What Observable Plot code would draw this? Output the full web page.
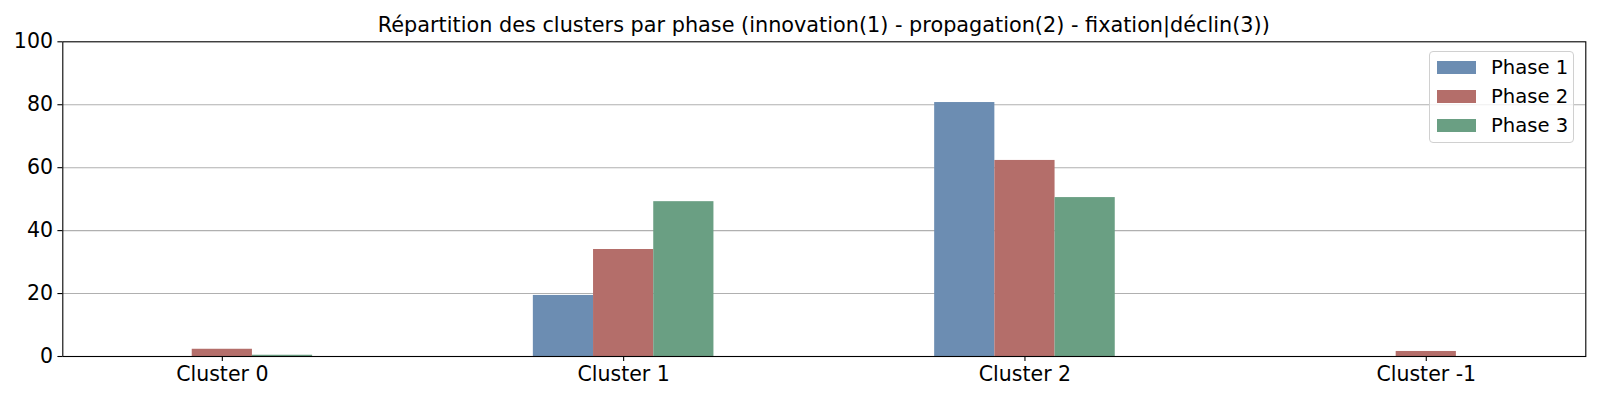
<!DOCTYPE html>
<html>
<head>
<meta charset="utf-8">
<script src="https://cdn.jsdelivr.net/npm/d3@7"></script>
<script src="https://cdn.jsdelivr.net/npm/@observablehq/plot@0.6"></script>
<style>
  html, body { margin: 0; padding: 0; background: #fff; }
  #wrap { position: relative; width: 1600px; height: 400px; font-family: "DejaVu Sans", sans-serif; }
  #title { position: absolute; left: 62.3px; width: 1523px; top: 13px; text-align: center; font-size: 20.8px; color: #000; line-height: 24px; white-space: nowrap; }
  #legend { position: absolute; left: 1429px; top: 51px; width: 145px; height: 92px; border: 1px solid #d0d0d0; border-radius: 4px; background: rgba(255,255,255,0.8); box-sizing: border-box; }
  .lg-row { position: absolute; left: 7px; height: 22px; display: flex; align-items: center; font-size: 19.6px; color: #000; }
  .lg-sw { width: 39px; height: 13px; margin-right: 15px; }
  svg { display: block; }
</style>
</head>
<body>
<div id="wrap">
  <div id="chart"></div>
  <div id="title"></div>
  <div id="legend"></div>
</div>
<script>
const titleText = "Répartition des clusters par phase (innovation(1) - propagation(2) - fixation|déclin(3))";
const clusters = ["Cluster 0", "Cluster 1", "Cluster 2", "Cluster -1"];
const phases = ["Phase 1", "Phase 2", "Phase 3"];
const phase1 = [0, 19.4, 80.7, 0];
const phase2 = [2.3, 34.0, 62.3, 1.6];
const phase3 = [0.4, 49.2, 50.5, 0];
const colors = ["#6c8db2", "#b46e6a", "#6a9f83"];
const yTicks = [0, 20, 40, 60, 80, 100];

const series = [phase1, phase2, phase3];
const barWidth = 0.15;
const rows = [];
clusters.forEach((c, i) => {
  series.forEach((vals, j) => {
    const center = i + (j - 1) * barWidth;
    rows.push({cluster: c, phase: phases[j], value: vals[i], x1: center - barWidth / 2, x2: center + barWidth / 2});
  });
});

const fs = 20.5;
const chart = Plot.plot({
  width: 1600,
  height: 400,
  marginLeft: 62.3,
  marginRight: 14.7,
  marginTop: 41.3,
  marginBottom: 44,
  style: {fontFamily: "DejaVu Sans, sans-serif", fontSize: fs + "px", color: "#000", background: "#fff"},
  x: {type: "linear", domain: [-0.3975, clusters.length - 1 + 0.3975], label: null},
  y: {domain: [0, 100], label: null},
  color: {domain: phases, range: colors},
  marks: [
    Plot.ruleY(yTicks.filter(t => t > 0 && t < 100), {stroke: "#b0b0b0", strokeWidth: 1.1}),
    Plot.rectY(rows, {x1: "x1", x2: "x2", y: "value", fill: "phase"}),
    Plot.axisX({ticks: d3.range(clusters.length), tickFormat: i => clusters[i], tickSize: 4.9, tickPadding: 4.9, strokeWidth: 1.1, fontSize: fs, label: null}),
    Plot.axisY({ticks: yTicks, tickSize: 4.9, tickPadding: 4.9, strokeWidth: 1.1, fontSize: fs, label: null}),
    Plot.frame({stroke: "#000", strokeWidth: 1.1})
  ]
});
document.getElementById("chart").appendChild(chart);
document.getElementById("title").textContent = titleText;

const legend = document.getElementById("legend");
const rowTops = [4, 33, 62];
phases.forEach((p, j) => {
  const r = document.createElement("div");
  r.className = "lg-row";
  r.style.top = rowTops[j] + "px";
  const sw = document.createElement("div");
  sw.className = "lg-sw";
  sw.style.background = colors[j];
  const t = document.createElement("span");
  t.textContent = p;
  r.appendChild(sw);
  r.appendChild(t);
  legend.appendChild(r);
});
</script>
</body>
</html>
